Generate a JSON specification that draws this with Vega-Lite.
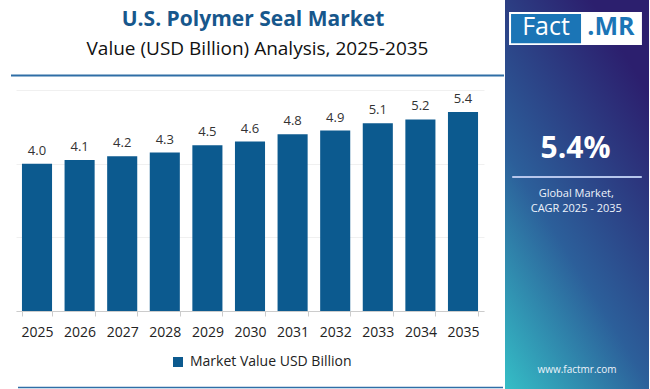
{
  "$schema": "https://vega.github.io/schema/vega-lite/v6.json",
  "padding": {"left": 10, "top": 0, "right": 3, "bottom": 0},
  "spacing": 0,
  "background": "white",
  "config": {"view": {"stroke": null}, "font": "Open Sans"},
  "datasets": {
    "market": [
      {"year": "2025", "value": 4.0, "series": "Market Value USD Billion"},
      {"year": "2026", "value": 4.1, "series": "Market Value USD Billion"},
      {"year": "2027", "value": 4.2, "series": "Market Value USD Billion"},
      {"year": "2028", "value": 4.3, "series": "Market Value USD Billion"},
      {"year": "2029", "value": 4.5, "series": "Market Value USD Billion"},
      {"year": "2030", "value": 4.6, "series": "Market Value USD Billion"},
      {"year": "2031", "value": 4.8, "series": "Market Value USD Billion"},
      {"year": "2032", "value": 4.9, "series": "Market Value USD Billion"},
      {"year": "2033", "value": 5.1, "series": "Market Value USD Billion"},
      {"year": "2034", "value": 5.2, "series": "Market Value USD Billion"},
      {"year": "2035", "value": 5.4, "series": "Market Value USD Billion"}
    ],
    "one": [{"k": 1}]
  },
  "hconcat": [
    {
      "spacing": 0,
      "vconcat": [
        {
          "width": 488,
          "height": 90,
          "data": {"name": "one"},
          "layer": [
            {
              "mark": {"type": "text", "text": "U.S. Polymer Seal Market", "fontSize": 21, "fontWeight": "bold", "color": "#17578c", "align": "center", "baseline": "alphabetic"},
              "encoding": {
                "x": {"datum": 237, "type": "quantitative", "scale": {"domain": [0, 488], "nice": false, "zero": false}, "axis": null},
                "y": {"datum": 26, "type": "quantitative", "scale": {"domain": [0, 90], "nice": false, "zero": false, "reverse": true}, "axis": null}
              }
            },
            {
              "mark": {"type": "text", "text": "Value (USD Billion) Analysis, 2025-2035", "fontSize": 19, "color": "#111111", "align": "center", "baseline": "alphabetic"},
              "encoding": {
                "x": {"datum": 241.5, "type": "quantitative"},
                "y": {"datum": 55, "type": "quantitative"}
              }
            },
            {
              "mark": {"type": "rule", "color": "#2f6ea6", "strokeWidth": 2, "clip": false},
              "encoding": {
                "x": {"datum": -5, "type": "quantitative"},
                "x2": {"datum": 488},
                "y": {"datum": 75.5, "type": "quantitative"}
              }
            }
          ]
        },
        {
          "width": 468,
          "height": 221,
          "layer": [
            {
              "data": {"name": "market"},
              "mark": {"type": "bar"},
              "encoding": {
                "x": {
                  "field": "year", "type": "nominal",
                  "scale": {"paddingInner": 0.294, "paddingOuter": 0.14},
                  "axis": {
                    "title": null, "labelAngle": 0, "labelFontSize": 14, "labelColor": "#222222",
                    "labelPadding": 9, "tickSize": 5, "tickColor": "#cccccc", "domainColor": "#cccccc",
                    "tickBand": "extent", "grid": false
                  }
                },
                "y": {
                  "field": "value", "type": "quantitative",
                  "scale": {"domain": [0, 6], "nice": false},
                  "axis": {
                    "title": null, "labels": false, "ticks": false, "domain": false,
                    "grid": true, "gridColor": "#f0f0f0", "values": [0, 1, 2, 3, 4, 5, 6]
                  }
                },
                "color": {
                  "field": "series", "type": "nominal",
                  "scale": {"range": ["#0c5a8f"]},
                  "legend": {
                    "title": null, "orient": "none", "legendX": 155, "legendY": 355,
                    "symbolType": "square", "symbolSize": 100, "labelFontSize": 14,
                    "labelColor": "#222222", "labelOffset": 5, "padding": 0, "labelLimit": 0
                  }
                }
              }
            },
            {
              "data": {"name": "market"},
              "mark": {"type": "text", "baseline": "bottom", "dy": -6, "fontSize": 13, "color": "#333333"},
              "encoding": {
                "x": {"field": "year", "type": "nominal"},
                "y": {"field": "value", "type": "quantitative"},
                "text": {"field": "value", "type": "quantitative", "format": ".1f"}
              }
            },
            {
              "data": {"name": "one"},
              "mark": {"type": "rule", "color": "#2f6ea6", "strokeWidth": 1.5, "clip": false},
              "encoding": {
                "x": {"value": 2},
                "x2": {"value": 487},
                "y": {"datum": -2.08, "type": "quantitative"}
              }
            }
          ]
        }
      ]
    },
    {
      "width": 144,
      "height": 389,
      "data": {"name": "one"},
      "layer": [
        {
          "mark": {
            "type": "rect",
            "color": {
              "gradient": "linear", "x1": 0, "y1": 1, "x2": 0.6, "y2": 0,
              "stops": [
                {"offset": 0, "color": "#35bec6"},
                {"offset": 0.45, "color": "#2c5f9a"},
                {"offset": 1, "color": "#2c1f6e"}
              ]
            }
          },
          "encoding": {
            "x": {"datum": 0, "type": "quantitative", "scale": {"domain": [0, 100], "nice": false, "zero": false}, "axis": null},
            "x2": {"datum": 100},
            "y": {"datum": 0, "type": "quantitative", "scale": {"domain": [0, 100], "nice": false, "zero": false, "reverse": true}, "axis": null},
            "y2": {"datum": 100}
          }
        },
        {
          "mark": {"type": "rect", "color": "white"},
          "encoding": {
            "x": {"datum": 2.8, "type": "quantitative"},
            "x2": {"datum": 95.1},
            "y": {"datum": 3.1, "type": "quantitative"},
            "y2": {"datum": 11.6}
          }
        },
        {
          "mark": {"type": "rect", "color": "#1b75b6"},
          "encoding": {
            "x": {"datum": 4.2, "type": "quantitative"},
            "x2": {"datum": 52.8},
            "y": {"datum": 3.6, "type": "quantitative"},
            "y2": {"datum": 11.1}
          }
        },
        {
          "mark": {"type": "text", "text": "Fact", "color": "white", "fontSize": 25, "align": "center", "baseline": "alphabetic"},
          "encoding": {
            "x": {"datum": 28.5, "type": "quantitative"},
            "y": {"datum": 9.0, "type": "quantitative"}
          }
        },
        {
          "mark": {"type": "text", "text": ".MR", "color": "#1b75b6", "fontSize": 25, "fontWeight": "bold", "align": "center", "baseline": "alphabetic"},
          "encoding": {
            "x": {"datum": 73.6, "type": "quantitative"},
            "y": {"datum": 9.0, "type": "quantitative"}
          }
        },
        {
          "mark": {"type": "text", "text": "5.4%", "color": "white", "fontSize": 30, "fontWeight": "bold", "align": "center", "baseline": "alphabetic"},
          "encoding": {
            "x": {"datum": 49, "type": "quantitative"},
            "y": {"datum": 40.6, "type": "quantitative"}
          }
        },
        {
          "mark": {"type": "rule", "color": "#b6c6ec", "strokeWidth": 2},
          "encoding": {
            "x": {"datum": 5, "type": "quantitative"},
            "x2": {"datum": 95},
            "y": {"datum": 45.5, "type": "quantitative"}
          }
        },
        {
          "mark": {"type": "text", "text": "Global Market,", "color": "#eef3fb", "fontSize": 11, "align": "center", "baseline": "alphabetic"},
          "encoding": {
            "x": {"datum": 49.5, "type": "quantitative"},
            "y": {"datum": 50.6, "type": "quantitative"}
          }
        },
        {
          "mark": {"type": "text", "text": "CAGR 2025 - 2035", "color": "#eef3fb", "fontSize": 11, "align": "center", "baseline": "alphabetic"},
          "encoding": {
            "x": {"datum": 49.5, "type": "quantitative"},
            "y": {"datum": 54.6, "type": "quantitative"}
          }
        },
        {
          "mark": {"type": "text", "text": "www.factmr.com", "color": "#eef3fb", "fontSize": 10, "align": "center", "baseline": "alphabetic"},
          "encoding": {
            "x": {"datum": 50, "type": "quantitative"},
            "y": {"datum": 95.9, "type": "quantitative"}
          }
        }
      ]
    }
  ]
}
